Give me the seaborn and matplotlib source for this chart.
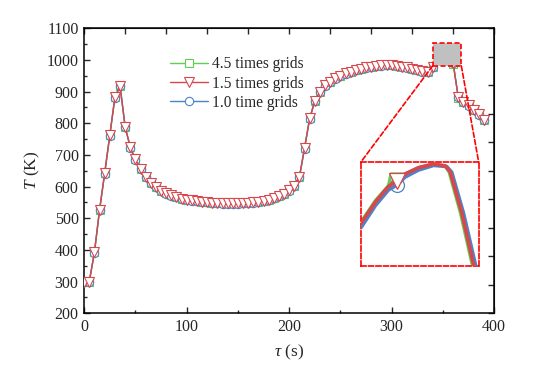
import matplotlib
matplotlib.use("Agg")
import matplotlib.pyplot as plt
import seaborn as sns
from matplotlib.patches import Rectangle, ConnectionPatch

# --- data (5 s steps) ---
tau = [0, 5, 10, 15, 20, 25, 30, 35, 40, 45, 50, 55, 60, 65, 70, 75, 80, 85, 90, 95,
       100, 105, 110, 115, 120, 125, 130, 135, 140, 145, 150, 155, 160, 165, 170, 175,
       180, 185, 190, 195, 200, 205, 210, 215, 220, 225, 230, 235, 240, 245, 250, 255,
       260, 265, 270, 275, 280, 285, 290, 295, 300, 305, 310, 315, 320, 325, 330, 335,
       340, 345, 350, 355, 360, 365, 370, 375, 380, 385, 390]

T_15 = [300, 300, 392, 526, 642, 762, 882, 918, 789, 724, 686, 656, 630, 612, 598, 587, 579, 572, 567, 562,
        559, 556, 554, 552, 551, 549, 548, 547, 547, 547, 547, 548, 549, 550, 552, 555,
        559, 564, 570, 578, 588, 603, 630, 722, 815, 870, 900, 920, 931, 942, 950, 957,
        963, 968, 972, 976, 979, 981, 983, 984, 984, 982, 979, 976, 972, 968, 964, 963,
        978, 1012, 1022, 1025, 990, 882, 868, 856, 842, 828, 811]

T_10 = [300, 300, 391, 525, 641, 761, 881, 917, 788, 723, 685, 655, 629, 611, 597, 586, 578, 571, 566, 561,
        558, 555, 553, 551, 550, 548, 547, 546, 546, 546, 546, 547, 548, 549, 551, 554,
        558, 563, 569, 577, 587, 602, 629, 720, 813, 869, 899, 919, 930, 941, 949, 956,
        962, 967, 971, 975, 978, 980, 982, 983, 983, 981, 978, 975, 971, 967, 963, 962,
        977, 1011, 1021, 1024, 991, 883, 867, 855, 841, 827, 810]

T_45 = [300, 300, 392, 526, 642, 762, 882, 918, 789, 724, 686, 656, 630, 612, 598, 587, 579, 572, 567, 562,
        559, 556, 554, 552, 551, 549, 548, 547, 547, 547, 547, 548, 549, 550, 552, 555,
        559, 564, 570, 578, 588, 603, 630, 722, 815, 870, 900, 920, 931, 942, 950, 957,
        963, 968, 972, 976, 979, 981, 983, 984, 984, 982, 979, 976, 972, 968, 964, 963,
        979, 1013, 1023, 1025, 988, 881, 868, 856, 842, 828, 811]

# zoomed window (grey box) and the magnified data drawn in the inset
ZOOM_T = (340, 368)
ZOOM_Y = (981, 1054)

tz_15 = [340.1, 343.5, 346.6, 348.6, 350.5, 353.7, 357.3, 360.1, 361.2, 364.0, 366.7, 367.6]
Tz_15 = [1011, 1026, 1037, 1041, 1045.7, 1050.2, 1052.8, 1051.4, 1047.4, 1018, 982.7, 975]
tz_10 = [340.1, 343.5, 346.6, 348.6, 350.5, 353.7, 357.3, 360.4, 361.6, 364.4, 367.2, 368.0]
Tz_10 = [1008, 1023.5, 1034.5, 1038, 1043.5, 1048.5, 1051.8, 1051, 1047, 1018, 982, 975]
tz_45 = [340.1, 343.5, 346.6, 347.2, 350.5, 353.7, 357.3, 360.0, 361.0, 363.7, 366.4, 367.3]
Tz_45 = [1012, 1027, 1037.5, 1045.7, 1045.7, 1050.2, 1052.8, 1051.4, 1047, 1018, 982.5, 975]

LABELS = ["4.5 times grids", "1.5 times grids", "1.0 time grids"]
GREEN, RED, BLUE = "#5fcf50", "#d8474b", "#4b84c8"

sns.set_style("ticks")
plt.rcParams["font.family"] = ["Liberation Serif", "DejaVu Serif"]
plt.rcParams["mathtext.fontset"] = "custom"
plt.rcParams["mathtext.rm"] = "Liberation Serif"
plt.rcParams["mathtext.it"] = "Liberation Serif:italic"

fig = plt.figure(figsize=(5.43, 3.76), dpi=100)
ax = fig.add_axes([0.155, 0.167, 0.755, 0.758])

# draw order: green, blue, red on top
series = [(LABELS[0], T_45, GREEN, "s", 5.5), (LABELS[2], T_10, BLUE, "o", 6), (LABELS[1], T_15, RED, "v", 7.2)]
for lab, vals, col, mk, ms in series:
    sns.lineplot(x=tau, y=vals, ax=ax, color=col, linewidth=1.0, marker=mk,
                 markersize=ms, markerfacecolor="white", markeredgecolor=col,
                 markeredgewidth=0.8, label=lab, zorder=3)

ax.set_xlim(0, 400)
ax.set_ylim(200, 1100)
ax.set_xticks([0, 100, 200, 300, 400])
ax.set_yticks(range(200, 1101, 100))
ax.set_xticks(range(50, 400, 100), minor=True)
ax.set_yticks(range(250, 1100, 100), minor=True)
ax.tick_params(direction="in", length=4, width=1, labelsize=11.5, top=False, right=False, pad=4)
ax.tick_params(which="minor", direction="in", length=2.5, width=1)
for s in ax.spines.values():
    s.set_linewidth(1.1)
    s.set_color("black")

# opposite axes have 10 equal divisions
sx = ax.secondary_xaxis("top")
sx.set_xticks([0, 40, 80, 120, 160, 200, 240, 280, 320, 360, 400])
sx.tick_params(direction="in", length=4, width=1, labeltop=False, labelbottom=False)
sy = ax.secondary_yaxis("right")
sy.set_yticks([200, 290, 380, 470, 560, 650, 740, 830, 920, 1010, 1100])
sy.tick_params(direction="in", length=4, width=1, labelright=False, labelleft=False)

ax.set_xlabel(r"$\tau$ (s)", fontsize=12.5, labelpad=6)
ax.set_ylabel(r"$T$ (K)", fontsize=12.5, labelpad=3)

h, l = ax.get_legend_handles_labels()
order = [l.index(x) for x in LABELS]
ax.legend([h[i] for i in order], LABELS, loc="upper left", bbox_to_anchor=(0.176, 0.95),
          frameon=False, handlelength=2.4, labelspacing=0.2, handletextpad=0.3, fontsize=11.2)

# grey zoom box
ax.add_patch(Rectangle((ZOOM_T[0], ZOOM_Y[0]), ZOOM_T[1] - ZOOM_T[0], ZOOM_Y[1] - ZOOM_Y[0],
                       facecolor="#c0c0c0", edgecolor="red", linestyle=(0, (3, 1.5)),
                       linewidth=1.2, zorder=5))

# inset
ins = fig.add_axes([0.6643, 0.2934, 0.2173, 0.275])
sns.lineplot(x=tz_45, y=Tz_45, ax=ins, color=GREEN, linewidth=2.4, zorder=2)
sns.lineplot(x=tz_10, y=Tz_10, ax=ins, color=BLUE, linewidth=2.6, marker="o", markevery=[3],
             markersize=10, markerfacecolor="none", markeredgecolor=BLUE, markeredgewidth=0.9, zorder=3)
sns.lineplot(x=tz_15, y=Tz_15, ax=ins, color=RED, linewidth=2.6, marker="v", markevery=[3],
             markersize=11, markerfacecolor="white", markeredgecolor=RED, markeredgewidth=0.9, zorder=4)
ins.set_xlim(*ZOOM_T)
ins.set_ylim(*ZOOM_Y)
ins.set_xticks([])
ins.set_yticks([])
ins.set_xlabel("")
ins.set_ylabel("")
ins.patch.set_alpha(0)
for s in ins.spines.values():
    s.set_color("red")
    s.set_linestyle((0, (3, 1.5)))
    s.set_linewidth(1.2)

for xa, xb in [(ZOOM_T[0], 0), (ZOOM_T[1], 1)]:
    con = ConnectionPatch(xyA=(xa, ZOOM_Y[0]), coordsA=ax.transData, xyB=(xb, 1), coordsB=ins.transAxes,
                          color="red", linestyle=(0, (3, 1.5)), linewidth=1.2)
    fig.add_artist(con)

fig.savefig("out.png", dpi=100)
